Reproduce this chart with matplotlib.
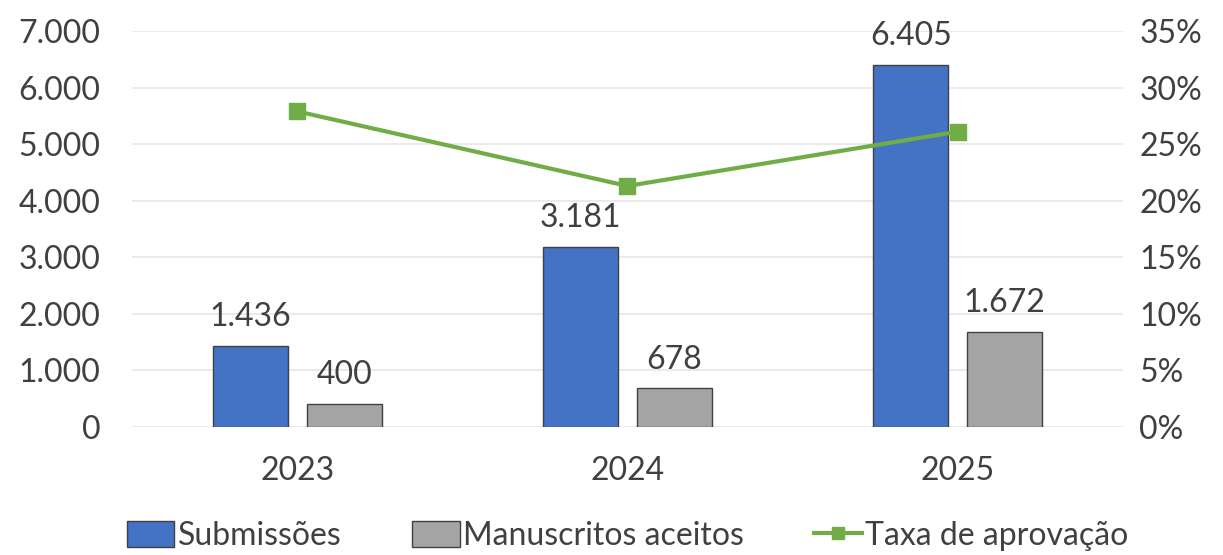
import matplotlib
matplotlib.use("Agg")
import matplotlib.pyplot as plt
from matplotlib.ticker import FuncFormatter, MultipleLocator
from matplotlib.lines import Line2D
from matplotlib.patches import Patch

years = ["2023", "2024", "2025"]
submissoes = [1436, 3181, 6405]
aceitos = [400, 678, 1672]
taxa = [27.9, 21.3, 26.1]

BLUE = "#4472C4"
GRAY = "#A5A5A5"
GREEN = "#70AD47"
TXT = "#404040"
plt.rcParams["font.family"] = ["Lato", "DejaVu Sans"]
FS = 23

fig = plt.figure(figsize=(12.23, 5.55), dpi=100)
ax = fig.add_axes([0.108, 0.231, 0.810, 0.713])
x = list(range(len(years)))
w = 0.227
off = 0.142
b1 = ax.bar([i - off for i in x], submissoes, w, color=BLUE, edgecolor=TXT, linewidth=1, zorder=2)
b2 = ax.bar([i + off for i in x], aceitos, w, color=GRAY, edgecolor=TXT, linewidth=1, zorder=2)

def fmt(v):
    return f"{v:,.0f}".replace(",", ".")

for bars, vals in ((b1, submissoes), (b2, aceitos)):
    for r, v in zip(bars, vals):
        ax.annotate(fmt(v), (r.get_x() + r.get_width() / 2, v), xytext=(0, 10),
                    textcoords="offset points", ha="center", va="bottom",
                    fontsize=FS, color=TXT)

ax.set_xlim(-0.5, 2.5)
ax.set_ylim(0, 7000)
ax.yaxis.set_major_locator(MultipleLocator(1000))
ax.yaxis.set_major_formatter(FuncFormatter(lambda v, p: fmt(v)))
ax.set_xticks(x)
ax.set_xticklabels(years)
ax.grid(axis="y", color="#E6E6E6", linewidth=1.2, zorder=0)
ax.set_axisbelow(True)
for s in ax.spines.values():
    s.set_visible(False)
ax.tick_params(axis="y", length=0, pad=23, labelsize=FS, labelcolor=TXT)
ax.tick_params(axis="x", length=0, pad=21, labelsize=FS, labelcolor=TXT)

ax2 = ax.twinx()
ax2.plot(x, taxa, color=GREEN, linewidth=3, marker="s", markersize=11, zorder=3)
ax2.set_ylim(0, 35)
ax2.yaxis.set_major_locator(MultipleLocator(5))
ax2.yaxis.set_major_formatter(FuncFormatter(lambda v, p: f"{v:.0f}%"))
for s in ax2.spines.values():
    s.set_visible(False)
ax2.tick_params(axis="y", length=0, pad=12, labelsize=FS, labelcolor=TXT)

handles = [Patch(facecolor=BLUE, edgecolor=TXT, linewidth=1),
           Patch(facecolor=GRAY, edgecolor=TXT, linewidth=1),
           Line2D([], [], color=GREEN, linewidth=3, marker="s", markersize=9)]
labels = ["Submissões", "Manuscritos aceitos", "Taxa de aprovação"]
fig.legend(handles, labels, loc="lower center", bbox_to_anchor=(0.513, -0.045), ncol=3,
           frameon=False, fontsize=FS, labelcolor=TXT, handlelength=1.5,
           handletextpad=0.1, columnspacing=2.2, handleheight=0.9)

fig.savefig("out.png", dpi=100)
